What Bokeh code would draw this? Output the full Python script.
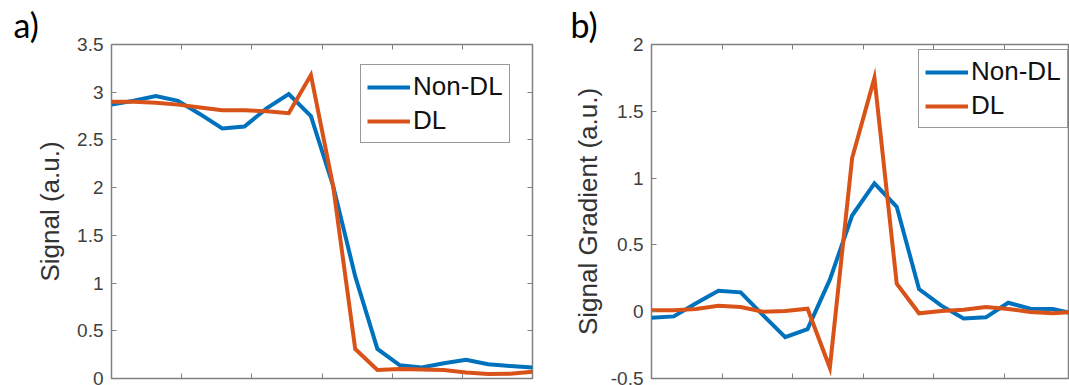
from bokeh.plotting import figure
from bokeh.models import (Range1d, FixedTicker, LinearAxis, NumeralTickFormatter,
                          Legend, LegendItem, Title)
from bokeh.layouts import row
from bokeh.embed import file_html
from bokeh.resources import INLINE

# ---------------- data ----------------
sample = [0, 1, 2, 3, 4, 5, 6, 7, 8, 9, 10, 11, 12, 13, 14, 15, 16, 17, 18, 19]

signal_non_dl = [2.87, 2.91, 2.96, 2.91, 2.77, 2.62, 2.64, 2.83, 2.98, 2.75,
                 2.02, 1.07, 0.31, 0.14, 0.115, 0.16, 0.195, 0.15, 0.13, 0.115]
signal_dl = [2.90, 2.90, 2.89, 2.87, 2.84, 2.81, 2.81, 2.80, 2.78, 3.18,
             2.02, 0.31, 0.09, 0.10, 0.095, 0.09, 0.063, 0.046, 0.05, 0.07]

grad_non_dl = [-0.045, -0.035, 0.063, 0.157, 0.145, -0.025, -0.19, -0.13, 0.24, 0.72,
               0.96, 0.785, 0.17, 0.045, -0.05, -0.042, 0.067, 0.022, 0.02, -0.017]
grad_dl = [0.01, 0.01, 0.02, 0.045, 0.035, 0.0, 0.005, 0.022, -0.42, 1.15,
           1.75, 0.21, -0.012, 0.005, 0.015, 0.035, 0.02, -0.002, -0.012, 0.0]

series_names = ["Non-DL", "DL"]
panel_tags = ["a)", "b)"]
y_labels = ["Signal (a.u.)", "Signal Gradient (a.u.)"]
y_ticks_a = [0, 0.5, 1, 1.5, 2, 2.5, 3, 3.5]
y_ticks_b = [-0.5, 0, 0.5, 1, 1.5, 2]

# ---------------- style ----------------
BLUE = "#0072BD"
ORANGE = "#D95319"
FONT = "Liberation Sans"
TICK_COLOR = "#404040"
GRID_COLOR = "#e3e3e3"
BORDER = "#808080"
x_grid = [19 * k / 6 for k in range(7)]


def hidden_axis(ticker):
    ax = LinearAxis(ticker=ticker)
    ax.major_label_text_font_size = "0px"
    ax.major_label_text_alpha = 0
    ax.major_label_standoff = 0
    ax.major_tick_in = 5
    ax.major_tick_out = 0
    ax.minor_tick_line_color = None
    ax.axis_line_color = None
    ax.major_tick_line_color = BORDER
    return ax


def make_panel(width, yr, yticks, ylab, nd, dl, tag, min_left, min_right, xr_end,
               legend_loc, lab_standoff, tag_x, add_right):
    title = Title(text=tag, text_font="Lato", text_font_size="34px",
                  text_font_style="normal", text_color="black",
                  align="left", offset=tag_x - min_left, standoff=0)
    p = figure(width=width, height=385, output_backend="svg", toolbar_location=None,
               x_range=Range1d(0, xr_end), y_range=Range1d(*yr),
               x_axis_type=None, y_axis_type=None, title=title,
               min_border_left=min_left, min_border_right=min_right,
               min_border_top=44, min_border_bottom=7)
    p.background_fill_color = "white"
    p.border_fill_color = "white"
    p.outline_line_color = BORDER
    p.outline_line_width = 1.5

    xt = FixedTicker(ticks=x_grid)
    yt = FixedTicker(ticks=yticks)

    # bottom & top (no labels)
    p.add_layout(hidden_axis(xt), "below")
    p.add_layout(hidden_axis(xt), "above")
    if add_right:
        p.add_layout(hidden_axis(yt), "right")

    ya = LinearAxis(ticker=yt, formatter=NumeralTickFormatter(format="0.[0]"))
    ya.major_label_text_font = FONT
    ya.major_label_text_font_size = "19px"
    ya.major_label_text_color = TICK_COLOR
    ya.major_label_standoff = 8
    ya.major_tick_in = 5
    ya.major_tick_out = 0
    ya.major_tick_line_color = BORDER
    ya.minor_tick_line_color = None
    ya.axis_line_color = None
    ya.axis_label = ylab
    ya.axis_label_text_font = FONT
    ya.axis_label_text_font_style = "normal"
    ya.axis_label_text_font_size = "26px"
    ya.axis_label_text_color = "#333333"
    ya.axis_label_standoff = lab_standoff
    p.add_layout(ya, "left")

    p.xgrid.ticker = xt
    p.ygrid.ticker = yt
    p.xgrid.grid_line_color = GRID_COLOR
    p.ygrid.grid_line_color = GRID_COLOR
    p.xgrid.grid_line_width = 1
    p.ygrid.grid_line_width = 1

    r1 = p.line(sample, nd, line_color=BLUE, line_width=4, line_join="miter")
    r2 = p.line(sample, dl, line_color=ORANGE, line_width=4, line_join="miter")

    leg = Legend(items=[LegendItem(label=series_names[0], renderers=[r1]),
                        LegendItem(label=series_names[1], renderers=[r2])],
                 location=legend_loc)
    leg.label_text_font = FONT
    leg.label_text_font_size = "26px"
    leg.label_text_color = "#111111"
    leg.glyph_width = 43
    leg.glyph_height = 30
    leg.label_standoff = 3
    leg.padding = 6
    leg.spacing = 3
    leg.margin = 0
    leg.border_line_color = "#333333"
    leg.border_line_width = 1.2
    leg.background_fill_color = "white"
    leg.background_fill_alpha = 1
    p.add_layout(leg, "center")
    return p


p1 = make_panel(560, (0, 3.5), y_ticks_a, y_labels[0], signal_non_dl, signal_dl,
                panel_tags[0], 111, 28, 19, (249, 235), 9, 13, True)
p2 = make_panel(509, (-0.5, 2), y_ticks_b, y_labels[1], grad_non_dl, grad_dl,
                panel_tags[1], 91, 0, 18.75, (267, 250), 5, 10, False)

layout = row(p1, p2)
open("out.html", "w").write(file_html(layout, INLINE))
